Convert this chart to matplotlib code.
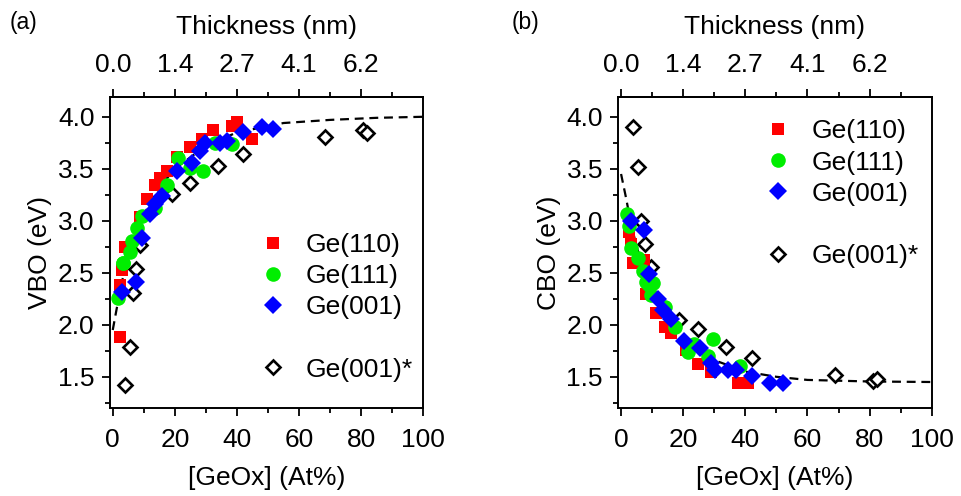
import matplotlib
matplotlib.use("Agg")
import matplotlib.pyplot as plt
from matplotlib.lines import Line2D
from matplotlib.ticker import MultipleLocator, FormatStrFormatter

plt.rcParams['font.family'] = ['Liberation Sans', 'DejaVu Sans']

# ---------------- (a) valence band offset ----------------
vbo_110_x = [2.4, 2.4, 2.3, 3.0, 4.0, 8.8, 10.9, 13.6, 15.2, 17.4, 20.6, 24.9, 28.7, 32.4, 38.3, 39.9, 44.8]
vbo_110_y = [1.88, 2.36, 2.38, 2.53, 2.75, 3.04, 3.21, 3.34, 3.41, 3.48, 3.61, 3.71, 3.79, 3.87, 3.91, 3.95, 3.79]
vbo_111_x = [1.8, 3.2, 3.4, 5.6, 6.1, 7.7, 9.3, 13.6, 17.4, 21.1, 24.9, 29.2, 32.9, 38.3]
vbo_111_y = [2.26, 2.59, 2.59, 2.70, 2.81, 2.93, 3.05, 3.12, 3.34, 3.60, 3.51, 3.48, 3.75, 3.74]
vbo_001_x = [2.9, 7.5, 9.3, 12.0, 13.6, 15.8, 20.6, 25.4, 28.1, 29.7, 34.5, 36.7, 42.0, 48.0, 51.7]
vbo_001_y = [2.32, 2.41, 2.83, 3.07, 3.16, 3.24, 3.48, 3.56, 3.67, 3.75, 3.75, 3.77, 3.85, 3.90, 3.88]
vbo_001s_x = [4.0, 5.4, 6.4, 7.5, 8.8, 19.0, 24.9, 34.0, 42.0, 68.4, 80.7, 81.8]
vbo_001s_y = [1.42, 1.79, 2.31, 2.54, 2.77, 3.26, 3.36, 3.53, 3.64, 3.81, 3.87, 3.84]
vbo_fit_x = [0.0, 1.3, 3.0, 5.0, 7.5, 10.0, 15.0, 20.0, 30.0, 40.0, 55.0, 70.0, 85.0, 100.0]
vbo_fit_y = [1.95, 2.16, 2.42, 2.65, 2.88, 3.06, 3.32, 3.50, 3.72, 3.85, 3.94, 3.97, 3.99, 4.00]

# ---------------- (b) conduction band offset ----------------
cbo_110_x = [2.5, 3.2, 3.7, 7.5, 8.1, 11.3, 14.0, 16.1, 21.0, 24.7, 29.0, 37.6, 40.8]
cbo_110_y = [2.89, 2.78, 2.59, 2.62, 2.30, 2.11, 1.98, 1.92, 1.76, 1.62, 1.55, 1.44, 1.44]
cbo_111_x = [1.8, 2.5, 3.2, 5.4, 7.0, 8.1, 9.1, 9.7, 10.2, 14.0, 17.2, 21.5, 23.6, 27.9, 29.5, 38.2]
cbo_111_y = [3.07, 2.95, 2.74, 2.64, 2.52, 2.41, 2.38, 2.29, 2.40, 2.17, 1.98, 1.74, 1.82, 1.70, 1.86, 1.60]
cbo_001_x = [3.2, 7.5, 9.1, 11.8, 13.4, 16.1, 20.4, 25.3, 29.0, 30.1, 34.4, 37.1, 42.2, 48.1, 52.1]
cbo_001_y = [3.00, 2.91, 2.49, 2.25, 2.14, 2.06, 1.84, 1.78, 1.63, 1.57, 1.57, 1.57, 1.51, 1.44, 1.44]
cbo_001s_x = [3.7, 5.4, 6.5, 7.8, 9.7, 18.8, 24.9, 33.9, 42.1, 68.8, 81.2, 82.3]
cbo_001s_y = [3.90, 3.52, 3.00, 2.78, 2.56, 2.05, 1.96, 1.79, 1.68, 1.52, 1.46, 1.48]
cbo_fit_x = [0.0, 1.6, 3.0, 5.0, 7.5, 10.0, 15.0, 20.0, 30.0, 40.0, 50.0, 60.0, 80.0, 100.0]
cbo_fit_y = [3.45, 3.22, 3.00, 2.75, 2.52, 2.35, 2.08, 1.88, 1.66, 1.55, 1.50, 1.47, 1.455, 1.45]

thickness_pos = [0, 20, 40, 60, 80]
thickness_labels = ['0.0', '1.4', '2.7', '4.1', '6.2']
series_labels = ['Ge(110)', 'Ge(111)', 'Ge(001)', 'Ge(001)*']

FS = 19
RED, GREEN, BLUE = '#ff0000', '#00ee00', '#0000ff'

fig = plt.figure(figsize=(9.62, 4.96), dpi=100)
ax_a = fig.add_axes([0.1143, 0.1774, 0.3257, 0.627])
ax_b = fig.add_axes([0.6427, 0.1774, 0.3258, 0.627])


def style_axes(ax, ylabel):
    ax.set_xlim(-0.9, 100)
    ax.set_ylim(1.2, 4.19)
    for s in ax.spines.values():
        s.set_linewidth(1.4)
    ax.xaxis.set_major_locator(MultipleLocator(20))
    ax.xaxis.set_minor_locator(MultipleLocator(10))
    ax.yaxis.set_major_locator(MultipleLocator(0.5))
    ax.yaxis.set_minor_locator(MultipleLocator(0.25))
    ax.tick_params(which='both', direction='out', width=1.3, top=False, right=False,
                   labelsize=FS)
    ax.tick_params(which='major', length=6)
    ax.tick_params(which='minor', length=3.5)
    ax.tick_params(axis='x', which='major', pad=8.6)
    ax.tick_params(axis='y', which='major', pad=5)
    ax.yaxis.set_major_formatter(FormatStrFormatter('%.1f'))
    ax.set_xlabel('[GeOx] (At%)', fontsize=FS, labelpad=10)
    ax.set_ylabel(ylabel, fontsize=FS, labelpad=4)
    top = ax.secondary_xaxis('top')
    top.set_xticks(thickness_pos, labels=thickness_labels)
    top.set_xticks([10, 30, 50, 70, 90], minor=True)
    top.tick_params(which='both', direction='out', width=1.3, labelsize=FS)
    top.tick_params(which='major', length=6, pad=8.6)
    top.tick_params(which='minor', length=3.5)
    top.spines['top'].set_linewidth(1.4)
    top.set_xlabel('Thickness (nm)', fontsize=FS, labelpad=13.5)


def draw_panel(ax, fx, fy, sx, sy, rx, ry, gx, gy, bx, by):
    ax.plot(fx, fy, color='black', lw=1.6, ls=(0, (4, 2.6)), zorder=1)
    ax.plot(sx, sy, ls='none', marker='D', ms=7.2, mfc='white', mec='black', mew=1.9, zorder=2)
    ax.plot(rx, ry, ls='none', marker='s', ms=9.2, mfc=RED, mec=RED, mew=0, zorder=3)
    ax.plot(gx, gy, ls='none', marker='o', ms=10.5, mfc=GREEN, mec=GREEN, mew=0, zorder=4)
    ax.plot(bx, by, ls='none', marker='D', ms=8.8, mfc=BLUE, mec=BLUE, mew=0, zorder=5)


def add_legend(ax, anchor):
    handles = [
        Line2D([], [], ls='none', marker='s', ms=8.8, mfc=RED, mec=RED, mew=0),
        Line2D([], [], ls='none', marker='o', ms=10.5, mfc=GREEN, mec=GREEN, mew=0),
        Line2D([], [], ls='none', marker='D', ms=8.8, mfc=BLUE, mec=BLUE, mew=0),
        Line2D([], [], ls='none', marker=None),
        Line2D([], [], ls='none', marker='D', ms=7.2, mfc='white', mec='black', mew=1.9),
    ]
    labels = series_labels[:3] + [''] + series_labels[3:]
    ax.legend(handles, labels, loc='upper left', bbox_to_anchor=anchor, frameon=False,
              fontsize=FS, handlelength=1.0, handletextpad=0.75, labelspacing=0.27,
              borderpad=0, borderaxespad=0)


draw_panel(ax_a, vbo_fit_x, vbo_fit_y, vbo_001s_x, vbo_001s_y, vbo_110_x, vbo_110_y,
           vbo_111_x, vbo_111_y, vbo_001_x, vbo_001_y)
draw_panel(ax_b, cbo_fit_x, cbo_fit_y, cbo_001s_x, cbo_001s_y, cbo_110_x, cbo_110_y,
           cbo_111_x, cbo_111_y, cbo_001_x, cbo_001_y)
style_axes(ax_a, 'VBO (eV)')
style_axes(ax_b, 'CBO (eV)')
add_legend(ax_a, (0.478, 0.562))
add_legend(ax_b, (0.468, 0.928))

fig.text(10 / 962, 1 - 22 / 496, '(a)', fontsize=16.5, va='center', ha='left')
fig.text(512 / 962, 1 - 22 / 496, '(b)', fontsize=16.5, va='center', ha='left')

fig.savefig('out.png', dpi=100)
